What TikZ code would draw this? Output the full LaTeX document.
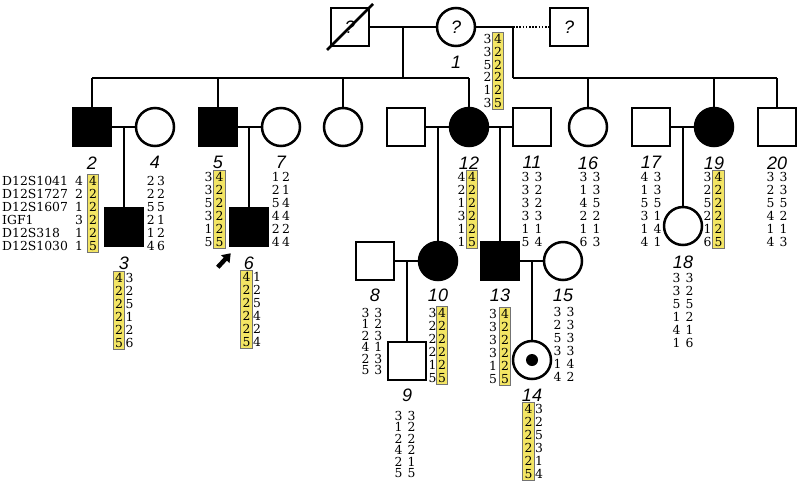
\documentclass[tikz,border=0pt]{standalone}
\usepackage{fontspec}
\usepackage{tikz}
\usetikzlibrary{arrows.meta}
\newfontfamily\lblfont{Liberation Sans}
\newfontfamily\gtfont{DejaVu Serif}
\newcommand\gtA{\gtfont\fontsize{12.4}{13}\selectfont\spaceskip=2.5pt\relax}
\newcommand\gtW{\gtfont\fontsize{12.4}{13}\selectfont\spaceskip=5pt\relax}
\newcommand\gtB{\gtfont\fontsize{12.4}{11.4}\selectfont\spaceskip=5pt\relax}
\definecolor{hapyellow}{RGB}{243,229,100}
\tikzset{
  male/.style={draw, rectangle, minimum size=38pt, inner sep=0, line width=2.5pt},
  female/.style={draw, circle, minimum size=38pt, inner sep=0, line width=2.5pt},
  aff/.style={fill=black},
  qm/.style={font=\lblfont\itshape\fontsize{18}{18}\selectfont},
  ln/.style={line width=2.5pt},
  lbl/.style={font=\lblfont\itshape\fontsize{18}{18}\selectfont, inner sep=0},
  gt/.style={font=\gtA, align=center, inner sep=0},
  gtw/.style={gt, font=\gtW},
  hap/.style={gt, fill=hapyellow, draw=black!55, line width=0.6pt, inner xsep=1.8pt, inner ysep=2pt},
  proband/.style={-{Triangle[length=8pt,width=11pt]}, line width=4.5pt}
}
\begin{document}
\begin{tikzpicture}[x=1pt, y=-1pt, label distance=9pt, every label/.style={lbl}]
\useasboundingbox (0,0) rectangle (800,488);

% generation I
\node[male, qm] (i1) at (350,27) {?};
\node[female, qm, label=below:1] (n1) at (456,27) {?};
\node[male, qm] (i3) at (569,27) {?};
\draw[ln] ([shift={(-23,23)}]i1.center) -- ([shift={(23,-23)}]i1.center);

% generation II
\node[male, aff, label=below:2] (p2) at (92,127) {};
\node[female, label=below:4] (p4) at (155,127) {};
\node[male, aff, label=below:5] (p5) at (218,127) {};
\node[female, label=below:7] (p7) at (281,127) {};
\node[female] (pu) at (343,127) {};
\node[male] (p12h) at (406,127) {};
\node[female, aff, label=below:12] (p12) at (469,127) {};
\node[male, label=below:11] (p11) at (532,127) {};
\node[female, label=below:16] (p16) at (588,127) {};
\node[male, label=below:17] (p17) at (651,127) {};
\node[female, aff, label=below:19] (p19) at (714,127) {};
\node[male, label=below:20] (p20) at (777,127) {};

% generation III
\node[male, aff, label=below:3] (p3) at (124,227) {};
\node[male, aff, label=below:6] (p6) at (249,227) {};
\node[female, label=below:18] (p18) at (683,226) {};
\node[male, label={[label distance=7.5pt]below:8}] (p8) at (375,261) {};
\node[female, aff, label={[label distance=7.5pt]below:10}] (p10) at (438,261) {};
\node[male, aff, label={[label distance=7.5pt]below:13}] (p13) at (500,261) {};
\node[female, label={[label distance=7.5pt]below:15}] (p15) at (563,261) {};

% generation IV
\node[male, label={[label distance=7.5pt]below:9}] (p9) at (407,361) {};
\node[female, label={[label distance=8.5pt]below:14}] (p14) at (532,360) {};
\fill (p14.center) circle (6pt);

% matings and lines of descent
\coordinate (m1) at (403,27);
\coordinate (s1) at (403,78);
\coordinate (m2) at (513,27);
\coordinate (s2) at (513,78);
\draw[ln] (i1.east) -- (n1.west);
\draw[ln] (n1.east) -- (m2);
\draw[ln, dash pattern=on 1.6pt off 1.6pt] (m2) -- (i3.west);
\draw[ln] (m1) -- (s1);
\draw[ln] (m2) -- (s2);
\draw[ln] (p2 |- s1) -- (p12 |- s1);
\draw[ln] (s2) -- (p20 |- s2);
\foreach \k in {p2,p5,pu,p12,p16,p19,p20}
  \draw[ln] (\k |- s1) -- (\k.north);

\draw[ln] (p2.east) -- (p4.west);
\draw[ln] (p5.east) -- (p7.west);
\draw[ln] (p12h.east) -- (p12.west);
\draw[ln] (p12.east) -- (p11.west);
\draw[ln] (p17.east) -- (p19.west);
\draw[ln] (p8.east) -- (p10.west);
\draw[ln] (p13.east) -- (p15.west);
\draw[ln] (p3 |- p2) -- (p3.north);
\draw[ln] (p6 |- p5) -- (p6.north);
\draw[ln] (p10 |- p12) -- (p10.north);
\draw[ln] (p13 |- p12) -- (p13.north);
\draw[ln] (p18 |- p17) -- (p18.north);
\draw[ln] (p9 |- p8) -- (p9.north);
\draw[ln] (p14 |- p13) -- (p14.north);

% proband
\draw[proband] ([shift={(-11,20)}]p6.south west) -- ([shift={(2,6)}]p6.south west);

% markers
\node[gt, align=left, anchor=west] (mk) at (2,213.5) {D12S1041\\D12S1727\\D12S1607\\IGF1\\D12S318\\D12S1030};

% haplotypes
\node[gt, font=\gtfont\fontsize{12.4}{12.8}\selectfont] (g1l) at (487.5,71) {3\\3\\5\\2\\1\\3};
\node[hap, font=\gtfont\fontsize{12.4}{12.8}\selectfont] (g1h) at (498,71) {4\\2\\2\\2\\2\\5};

\node[gt] (g2l) at (79,213.5) {4\\2\\1\\3\\1\\1};
\node[hap] (g2h) at (93,213.5) {4\\2\\2\\2\\2\\5};
\node[gt] (g4) at (156,213.5) {2 3\\2 2\\5 5\\2 1\\1 2\\4 6};
\node[gt] (g5l) at (208.5,209.5) {3\\3\\5\\3\\1\\5};
\node[hap] (g5h) at (219.5,209.5) {4\\2\\2\\2\\2\\5};
\node[gt] (g7) at (281,209.5) {1 2\\2 1\\5 4\\4 4\\2 2\\4 4};
\node[gt] (g12l) at (461.5,209.5) {4\\2\\1\\3\\1\\1};
\node[hap] (g12h) at (472,209.5) {4\\2\\2\\2\\2\\5};
\node[gtw] (g11) at (532,209.5) {3 3\\3 2\\3 2\\3 3\\1 1\\5 4};
\node[gtw] (g16) at (590,209.5) {3 3\\1 3\\4 5\\2 2\\1 1\\6 3};
\node[gtw] (g17) at (651,209.5) {4 3\\1 3\\5 5\\3 1\\1 4\\4 1};
\node[gt] (g19l) at (707.5,209.5) {3\\2\\5\\2\\1\\6};
\node[hap] (g19h) at (718.5,209.5) {4\\2\\2\\2\\2\\5};
\node[gtw] (g20) at (777,209.5) {3 3\\2 3\\5 5\\4 2\\1 1\\4 3};

\node[hap] (g3h) at (119,310.5) {4\\2\\2\\2\\2\\5};
\node[gt] (g3r) at (129.5,310.5) {3\\2\\5\\1\\2\\6};
\node[hap] (g6h) at (246.5,309.5) {4\\2\\2\\2\\2\\5};
\node[gt] (g6r) at (257,309.5) {1\\2\\5\\4\\2\\4};
\node[gtw] (g18) at (683,310) {3 3\\3 2\\5 5\\1 2\\4 1\\1 6};
\node[gtw, font=\gtB] (g8) at (372,341.5) {3 3\\1 2\\2 3\\4 1\\2 3\\5 3};
\node[gt] (g10l) at (432.5,345) {3\\2\\2\\2\\1\\5};
\node[hap] (g10h) at (442,345) {4\\2\\2\\2\\2\\5};
\node[gt] (g13l) at (493,346.5) {3\\3\\3\\3\\1\\5};
\node[hap] (g13h) at (505,346.5) {4\\2\\2\\2\\2\\5};
\node[gtw] (g15) at (564,344.5) {3 3\\2 3\\5 3\\3 3\\1 4\\4 2};
\node[gtw, font=\gtB] (g9) at (405,444.5) {3 3\\1 2\\2 2\\4 2\\2 1\\5 5};
\node[hap] (g14h) at (528.5,441.5) {4\\2\\2\\2\\2\\5};
\node[gt] (g14r) at (539,441.5) {3\\2\\5\\3\\1\\4};
\end{tikzpicture}
\end{document}
